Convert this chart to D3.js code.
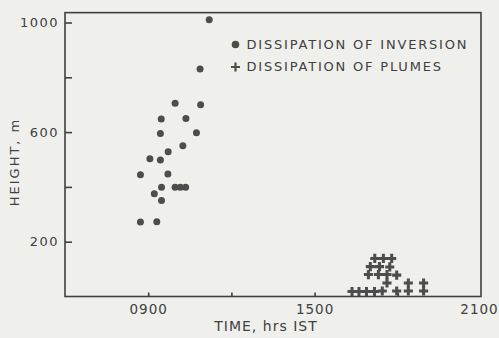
<!DOCTYPE html>
<html>
<head>
<meta charset="utf-8">
<script src="https://cdn.jsdelivr.net/npm/d3@7"></script>
<style>
  body { margin: 0; background: #efefec; }
  svg { display: block; }
</style>
</head>
<body>
<div id="chart"></div>
<script>
const W = 499, H = 338;

// dissipation of inversion: time (decimal hours IST), height (m)
const invTime = [11.20, 10.87, 9.97, 10.89, 9.47, 10.36, 9.44, 10.74, 10.25, 9.72, 9.06,
  9.44, 8.72, 9.71, 9.48, 9.97, 10.16, 10.35, 9.22, 9.48, 8.72, 9.31];
const invHeight = [1010, 830, 705, 700, 648, 650, 595, 598, 550, 528, 503,
  498, 444, 447, 399, 399, 399, 399, 375, 350, 272, 273];

// dissipation of plumes
const plumeTime = [17.17, 17.48, 17.78, 17.01, 17.34, 17.71, 16.94, 17.30, 17.61, 17.96,
  17.61, 18.38, 18.93, 16.35, 16.60, 16.87, 17.16, 17.44, 17.96, 18.38, 18.93];
const plumeHeight = [139, 139, 139, 109, 109, 108, 80, 80, 80, 78,
  49, 49, 49, 18, 18, 18, 18, 20, 20, 20, 20];

const yTicks = [200, 400, 600, 800, 1000];
const yLabels = [200, 600, 1000];
const xTicks = [9, 12, 15, 18, 21];
const xLabels = [9, 15, 21];

const legendItems = ["DISSIPATION OF INVERSION", "DISSIPATION OF PLUMES"];

const ink = "#404040";
const font = "'DejaVu Sans', sans-serif";

const x = d3.scaleLinear().domain([6, 21]).range([65, 481]);
const y = d3.scaleLinear().domain([0, 1000]).range([296.5, 22.5]);

const svg = d3.select("#chart").append("svg")
  .attr("width", W).attr("height", H);

// frame
svg.append("rect")
  .attr("x", x(6)).attr("y", y(1036))
  .attr("width", x(21) - x(6)).attr("height", y(0) - y(1036))
  .attr("fill", "none").attr("stroke", ink).attr("stroke-width", 1.6);

const yAxis = svg.append("g")
  .attr("transform", `translate(${x(6)},0)`)
  .call(d3.axisLeft(y).tickValues(yTicks).tickSizeInner(-7).tickSizeOuter(0).tickPadding(6)
    .tickFormat(d => yLabels.includes(d) ? d : ""));

const xAxis = svg.append("g")
  .attr("transform", `translate(0,${y(0)})`)
  .call(d3.axisBottom(x).tickValues(xTicks).tickSizeInner(-4).tickSizeOuter(0).tickPadding(8)
    .tickFormat(d => xLabels.includes(d) ? d3.format("02d")(d) + "00" : ""));

[yAxis, xAxis].forEach(g => {
  g.select(".domain").remove();
  g.selectAll("line").attr("stroke", ink).attr("stroke-width", 1.6);
  g.selectAll("text").attr("fill", ink).attr("font-family", font)
    .attr("font-size", 13).attr("letter-spacing", 1.5);
});
xAxis.selectAll("text").attr("font-size", 13.5).attr("letter-spacing", 1);
xAxis.selectAll(".tick").filter(d => d === 21).select("line").remove();
xAxis.selectAll(".tick").filter(d => d === 21).select("text").attr("dx", -2);

// axis titles
svg.append("text")
  .attr("x", 266).attr("y", 331)
  .attr("text-anchor", "middle")
  .attr("fill", ink).attr("font-family", font).attr("font-size", 14)
  .attr("letter-spacing", 1)
  .text("TIME, hrs IST");

svg.append("text")
  .attr("transform", "translate(19,162) rotate(-90)")
  .attr("text-anchor", "middle")
  .attr("fill", ink).attr("font-family", font).attr("font-size", 13)
  .attr("letter-spacing", 2)
  .text("HEIGHT, m");

// points
svg.append("g").selectAll("circle")
  .data(invTime.map((t, i) => [t, invHeight[i]]))
  .join("circle")
  .attr("cx", d => x(d[0])).attr("cy", d => y(d[1]))
  .attr("r", 3.5).attr("fill", "#4d4d4d");

const cross = d3.symbol(d3.symbolCross, 46);
svg.append("g").selectAll("path")
  .data(plumeTime.map((t, i) => [t, plumeHeight[i]]))
  .join("path")
  .attr("d", cross)
  .attr("transform", d => `translate(${x(d[0])},${y(d[1])})`)
  .attr("fill", "#4d4d4d");

// legend
const legend = svg.append("g").attr("transform", "translate(235.5,44.5)");
legend.append("circle").attr("r", 3.8).attr("fill", "#4d4d4d");
legend.append("path")
  .attr("d", "M-4.5,22.5H4.5M0,18V27")
  .attr("stroke", "#4d4d4d").attr("stroke-width", 2.2);
legend.selectAll("text")
  .data(legendItems)
  .join("text")
  .attr("x", 11).attr("y", (d, i) => 4.8 + i * 22)
  .attr("fill", ink).attr("font-family", font).attr("font-size", 13)
  .attr("letter-spacing", 1.8)
  .text(d => d);
</script>
</body>
</html>
